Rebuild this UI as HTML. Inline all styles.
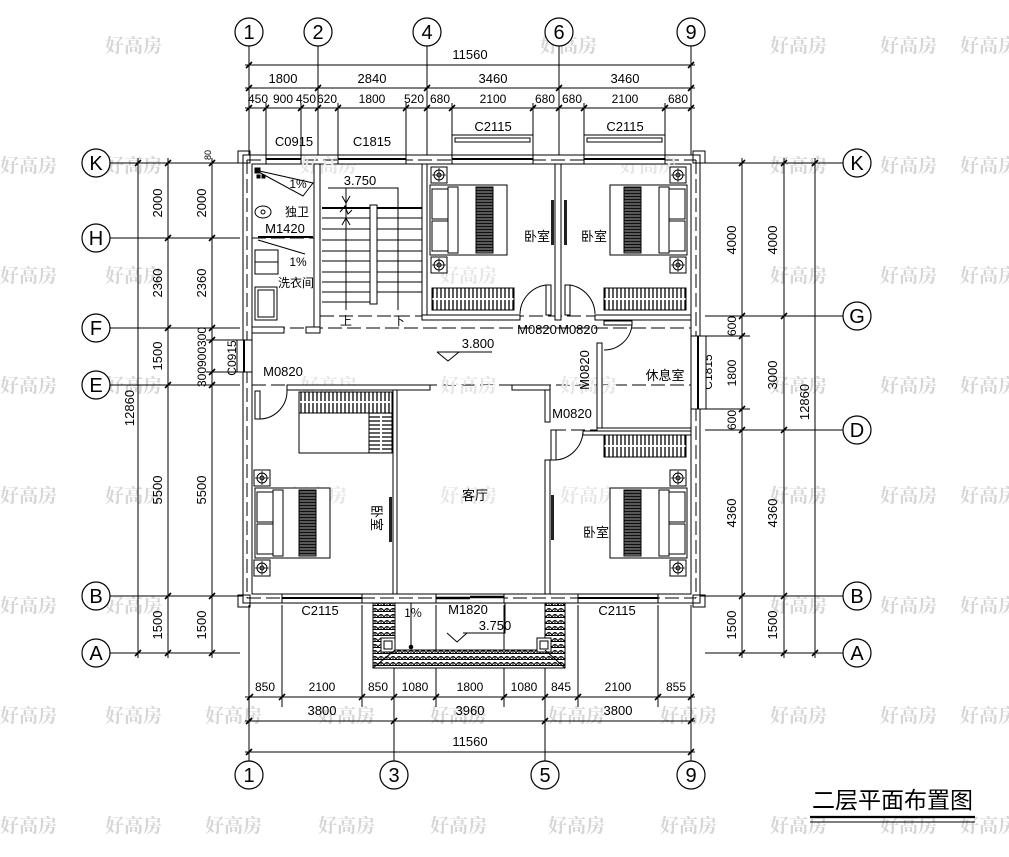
<!DOCTYPE html>
<html><head><meta charset="utf-8">
<style>
html,body{margin:0;padding:0;background:#fff;}
svg{display:block;}
text{font-family:"Liberation Sans","Noto Sans CJK SC",sans-serif;fill:#000;}
.d{font-size:13px;text-anchor:middle;}
.s{font-size:12px;text-anchor:middle;}
.c{font-family:"Liberation Serif","Noto Serif CJK SC",serif;font-size:20px;text-anchor:middle;}
.w{font-family:"Noto Serif CJK SC","Liberation Serif",serif;font-size:19px;fill:#d6d6d6;font-weight:bold;}
.wi{font-family:"Noto Serif CJK SC","Liberation Serif",serif;font-size:19px;fill:#e6e6e6;font-weight:bold;}
.cn{font-family:"Noto Sans CJK SC",sans-serif;font-size:12px;text-anchor:middle;}
</style></head><body>
<svg width="1009" height="857" viewBox="0 0 1009 857" xmlns="http://www.w3.org/2000/svg">
<defs>
<pattern id="wd" width="4" height="22" patternUnits="userSpaceOnUse">
<rect width="4" height="22" fill="#fff"/><line x1="1" y1="0" x2="1" y2="22" stroke="#000" stroke-width="1.3"/>
</pattern>
<pattern id="wdv" width="22" height="4" patternUnits="userSpaceOnUse">
<rect width="22" height="4" fill="#fff"/><line x1="0" y1="1" x2="22" y2="1" stroke="#000" stroke-width="1.3"/>
</pattern>
<pattern id="bar" width="16" height="3" patternUnits="userSpaceOnUse">
<rect width="16" height="3" fill="#111"/><line x1="0" y1="1" x2="16" y2="1" stroke="#fff" stroke-width="0.6"/>
</pattern>
<pattern id="tile" width="6" height="6" patternUnits="userSpaceOnUse">
<rect width="6" height="6" fill="#fff"/><path d="M0 5 Q3 0 6 5 M3 2.5 V6 M0 5.5H6" stroke="#000" stroke-width="1" fill="none"/>
</pattern>
<g id="ns"><rect x="-8" y="-8" width="16" height="16" fill="#fff" stroke="#000"/><circle r="5" fill="none" stroke="#000"/><circle r="2" fill="none" stroke="#000"/><path d="M-7 0H7M0 -7V7" stroke="#000" stroke-width="0.8"/></g>
</defs>
<rect width="1009" height="857" fill="#fff"/>

<!-- watermarks -->
<g class="wm">
<text class="w" x="105" y="52">好高房</text><text class="w" x="540" y="52">好高房</text><text class="w" x="770" y="52">好高房</text><text class="w" x="880" y="52">好高房</text><text class="w" x="960" y="52">好高房</text>
<text class="w" x="0" y="172">好高房</text><text class="w" x="105" y="172">好高房</text><text class="w" x="770" y="172">好高房</text><text class="w" x="880" y="172">好高房</text><text class="w" x="960" y="172">好高房</text>
<text class="w" x="0" y="282">好高房</text><text class="w" x="105" y="282">好高房</text><text class="w" x="770" y="282">好高房</text><text class="w" x="880" y="282">好高房</text><text class="w" x="960" y="282">好高房</text>
<text class="w" x="0" y="392">好高房</text><text class="w" x="105" y="392">好高房</text><text class="w" x="770" y="392">好高房</text><text class="w" x="880" y="392">好高房</text><text class="w" x="960" y="392">好高房</text>
<text class="w" x="0" y="502">好高房</text><text class="w" x="105" y="502">好高房</text><text class="w" x="770" y="502">好高房</text><text class="w" x="880" y="502">好高房</text><text class="w" x="960" y="502">好高房</text>
<text class="w" x="0" y="612">好高房</text><text class="w" x="105" y="612">好高房</text><text class="w" x="770" y="612">好高房</text><text class="w" x="880" y="612">好高房</text><text class="w" x="960" y="612">好高房</text>
<text class="w" x="0" y="722">好高房</text><text class="w" x="105" y="722">好高房</text><text class="w" x="205" y="722">好高房</text><text class="w" x="318" y="722">好高房</text><text class="w" x="430" y="722">好高房</text><text class="w" x="548" y="722">好高房</text><text class="w" x="660" y="722">好高房</text><text class="w" x="770" y="722">好高房</text><text class="w" x="880" y="722">好高房</text><text class="w" x="960" y="722">好高房</text>
<text class="w" x="0" y="832">好高房</text><text class="w" x="105" y="832">好高房</text><text class="w" x="205" y="832">好高房</text><text class="w" x="318" y="832">好高房</text><text class="w" x="430" y="832">好高房</text><text class="w" x="548" y="832">好高房</text><text class="w" x="660" y="832">好高房</text><text class="w" x="770" y="832">好高房</text><text class="w" x="880" y="832">好高房</text><text class="w" x="960" y="832">好高房</text>
</g>

<g stroke="#000" stroke-width="1" fill="none">
<!-- TOP axes -->
<line x1="249" y1="46" x2="249" y2="155"/><line x1="318" y1="46" x2="318" y2="160"/><line x1="427" y1="46" x2="427" y2="160"/><line x1="559" y1="46" x2="559" y2="160"/><line x1="691" y1="46" x2="691" y2="155"/>
<line x1="245" y1="65" x2="695" y2="65"/><line x1="245" y1="88" x2="695" y2="88"/><line x1="245" y1="108" x2="695" y2="108"/>
<path d="M266 103V155M301 103V155M338 103V155M406 103V155M452 103V140M533 103V140M584 103V140M665 103V140"/>
<!-- left axes -->
<line x1="110" y1="163" x2="243" y2="163"/><line x1="110" y1="238" x2="240" y2="238"/><line x1="110" y1="328" x2="240" y2="328"/><line x1="110" y1="385" x2="240" y2="385"/><line x1="110" y1="596" x2="243" y2="596"/><line x1="110" y1="653" x2="240" y2="653"/>
<line x1="138" y1="158" x2="138" y2="658"/><line x1="168" y1="158" x2="168" y2="658"/><line x1="212" y1="158" x2="212" y2="658"/>
<path d="M206 340H240M206 372H240"/>
<!-- right axes -->
<line x1="700" y1="163" x2="843" y2="163"/><line x1="705" y1="316" x2="843" y2="316"/><line x1="705" y1="430" x2="843" y2="430"/><line x1="700" y1="596" x2="843" y2="596"/><line x1="705" y1="653" x2="843" y2="653"/>
<line x1="742" y1="158" x2="742" y2="658"/><line x1="784" y1="158" x2="784" y2="658"/><line x1="815" y1="158" x2="815" y2="658"/>
<path d="M700 336H750M700 409H750"/>
<!-- bottom axes -->
<line x1="249" y1="605" x2="249" y2="761"/><line x1="394" y1="605" x2="394" y2="761"/><line x1="545" y1="605" x2="545" y2="761"/><line x1="691" y1="605" x2="691" y2="761"/>
<path d="M282 605V707M362 605V707M436 605V707M504 605V707M578 605V707M658 605V707"/>
<line x1="245" y1="697" x2="695" y2="697"/><line x1="245" y1="721" x2="695" y2="721"/><line x1="245" y1="752" x2="695" y2="752"/>
</g>
<!-- ticks -->
<g stroke="#000" stroke-width="1.6">
<path d="M246 68L252 62M688 68L694 62"/>
<path d="M246 91L252 85M315 91L321 85M424 91L430 85M556 91L562 85M688 91L694 85"/>
<path d="M246 111L252 105M263 111L269 105M298 111L304 105M315 111L321 105M335 111L341 105M403 111L409 105M424 111L430 105M449 111L455 105M530 111L536 105M556 111L562 105M581 111L587 105M662 111L668 105M688 111L694 105"/>
<path d="M135 166L141 160M135 656L141 650"/>
<path d="M165 166L171 160M165 241L171 235M165 331L171 325M165 388L171 382M165 599L171 593M165 656L171 650"/>
<path d="M209 166L215 160M209 241L215 235M209 331L215 325M209 343L215 337M209 375L215 369M209 388L215 382M209 599L215 593M209 656L215 650"/>
<path d="M739 166L745 160M739 319L745 313M739 339L745 333M739 412L745 406M739 433L745 427M739 599L745 593M739 656L745 650"/>
<path d="M781 166L787 160M781 319L787 313M781 433L787 427M781 599L787 593M781 656L787 650"/>
<path d="M812 166L818 160M812 656L818 650"/>
<path d="M247 700L253 694M279 700L285 694M359 700L365 694M391 700L397 694M433 700L439 694M501 700L507 694M542 700L548 694M575 700L581 694M655 700L661 694M688 700L694 694"/>
<path d="M246 724L252 718M391 724L397 718M542 724L548 718M688 724L694 718"/>
<path d="M246 755L252 749M688 755L694 749"/>
</g>

<!-- axis circles -->
<g fill="#fff" stroke="#000" stroke-width="1.2">
<circle cx="249" cy="32" r="14"/><circle cx="318" cy="32" r="14"/><circle cx="427" cy="32" r="14"/><circle cx="559" cy="32" r="14"/><circle cx="691" cy="32" r="14"/>
<circle cx="96" cy="163" r="14"/><circle cx="96" cy="238" r="14"/><circle cx="96" cy="328" r="14"/><circle cx="96" cy="385" r="14"/><circle cx="96" cy="596" r="14"/><circle cx="96" cy="653" r="14"/>
<circle cx="857" cy="163" r="14"/><circle cx="857" cy="316" r="14"/><circle cx="857" cy="430" r="14"/><circle cx="857" cy="596" r="14"/><circle cx="857" cy="653" r="14"/>
<circle cx="249" cy="775" r="14"/><circle cx="394" cy="775" r="14"/><circle cx="545" cy="775" r="14"/><circle cx="691" cy="775" r="14"/>
</g>
<g class="c">
<text x="249" y="39">1</text><text x="318" y="39">2</text><text x="427" y="39">4</text><text x="559" y="39">6</text><text x="691" y="39">9</text>
<text x="96" y="170">K</text><text x="96" y="245">H</text><text x="96" y="335">F</text><text x="96" y="392">E</text><text x="96" y="603">B</text><text x="96" y="660">A</text>
<text x="857" y="170">K</text><text x="857" y="323">G</text><text x="857" y="437">D</text><text x="857" y="603">B</text><text x="857" y="660">A</text>
<text x="249" y="782">1</text><text x="394" y="782">3</text><text x="545" y="782">5</text><text x="691" y="782">9</text>
</g>

<!-- dimension texts -->
<g class="d">
<text x="470" y="59">11560</text>
<text x="283" y="83">1800</text><text x="372" y="83">2840</text><text x="493" y="83">3460</text><text x="625" y="83">3460</text>
</g>
<g class="s">
<text x="258" y="103">450</text><text x="283" y="103">900</text><text x="306" y="103">450</text><text x="327" y="103">620</text><text x="372" y="103">1800</text><text x="414" y="103">520</text><text x="440" y="103">680</text><text x="493" y="103">2100</text><text x="545" y="103">680</text><text x="572" y="103">680</text><text x="625" y="103">2100</text><text x="678" y="103">680</text>
<text x="265" y="691">850</text><text x="322" y="691">2100</text><text x="378" y="691">850</text><text x="415" y="691">1080</text><text x="470" y="691">1800</text><text x="524" y="691">1080</text><text x="561" y="691">845</text><text x="618" y="691">2100</text><text x="676" y="691">855</text>
</g>
<g class="d">
<text x="322" y="715">3800</text><text x="470" y="715">3960</text><text x="618" y="715">3800</text>
<text x="470" y="746">11560</text>
</g>
<g class="d">
<text transform="translate(162,203) rotate(-90)">2000</text>
<text transform="translate(162,283) rotate(-90)">2360</text>
<text transform="translate(162,356) rotate(-90)">1500</text>
<text transform="translate(162,490) rotate(-90)">5500</text>
<text transform="translate(162,625) rotate(-90)">1500</text>
<text transform="translate(134,408) rotate(-90)">12860</text>
<text transform="translate(206,203) rotate(-90)">2000</text>
<text transform="translate(206,283) rotate(-90)">2360</text>
<text transform="translate(206,490) rotate(-90)">5500</text>
<text transform="translate(206,625) rotate(-90)">1500</text>
<text transform="translate(736,240) rotate(-90)">4000</text>
<text transform="translate(736,513) rotate(-90)">4360</text>
<text transform="translate(736,625) rotate(-90)">1500</text>
<text transform="translate(777,240) rotate(-90)">4000</text>
<text transform="translate(777,375) rotate(-90)">3000</text>
<text transform="translate(777,513) rotate(-90)">4360</text>
<text transform="translate(777,625) rotate(-90)">1500</text>
<text transform="translate(809,402) rotate(-90)">12860</text>
</g>
<g class="s">
<text transform="translate(206,357) rotate(-90)">300900300</text>
<text transform="translate(736,326) rotate(-90)">600</text>
<text transform="translate(736,373) rotate(-90)">1800</text>
<text transform="translate(736,420) rotate(-90)">600</text>
<text transform="translate(236,358) rotate(-90)">C0915</text>
<text transform="translate(712,372) rotate(-90)">C1815</text>
<text transform="translate(211,155) rotate(-90)" style="font-size:9px">80</text>
</g>

<!-- BUILDING -->
<g stroke="#000" stroke-width="1" fill="none">
<rect x="243" y="155" width="457" height="448" fill="#fff"/>
<rect x="252" y="164" width="439" height="430"/>
<path d="M238 151h12v12h-12zM693 151h12v12h-12zM238 595h12v12h-12zM693 595h12v12h-12z"/>
<g stroke-dasharray="14 5">
<line x1="247" y1="160" x2="696" y2="160"/><line x1="247" y1="598" x2="696" y2="598"/>
<line x1="247" y1="160" x2="247" y2="598"/><line x1="696" y1="160" x2="696" y2="598"/>
<line x1="252" y1="328" x2="691" y2="328"/><line x1="252" y1="385" x2="691" y2="385"/><line x1="252" y1="238" x2="320" y2="238"/>
<line x1="320" y1="316" x2="691" y2="316"/><line x1="552" y1="430" x2="691" y2="430"/>
</g>
</g>
<!-- interior watermarks -->
<g>
<text class="wi" x="300" y="172">好高房</text><text class="wi" x="440" y="282">好高房</text><text class="wi" x="620" y="172">好高房</text>
<text class="wi" x="300" y="392">好高房</text><text class="wi" x="440" y="392">好高房</text><text class="wi" x="560" y="392">好高房</text>
<text class="wi" x="290" y="502">好高房</text><text class="wi" x="440" y="502">好高房</text><text class="wi" x="560" y="502">好高房</text>
</g>
<!-- windows -->
<g fill="#fff" stroke="#000" stroke-width="1">
<rect x="266" y="155" width="35" height="9"/><line x1="266" y1="159" x2="301" y2="159" stroke-width="2"/>
<rect x="338" y="155" width="68" height="9"/><line x1="338" y1="159" x2="406" y2="159" stroke-width="2"/>
<rect x="452" y="135" width="81" height="29"/><rect x="455" y="138" width="75" height="4"/><line x1="452" y1="155" x2="533" y2="155"/><line x1="452" y1="159" x2="533" y2="159" stroke-width="2"/>
<rect x="584" y="135" width="81" height="29"/><rect x="587" y="138" width="75" height="4"/><line x1="584" y1="155" x2="665" y2="155"/><line x1="584" y1="159" x2="665" y2="159" stroke-width="2"/>
<rect x="237" y="340" width="15" height="32"/><line x1="244" y1="340" x2="244" y2="372" stroke-width="2"/>
<rect x="691" y="336" width="15" height="73"/><line x1="698" y1="336" x2="698" y2="409" stroke-width="2"/>
<rect x="282" y="594" width="80" height="9"/><line x1="282" y1="598" x2="362" y2="598" stroke-width="2"/>
<rect x="578" y="594" width="80" height="9"/><line x1="578" y1="598" x2="658" y2="598" stroke-width="2"/>
<rect x="436" y="594" width="68" height="9"/><line x1="436" y1="598" x2="470" y2="598" stroke-width="2.5"/><line x1="470" y1="597" x2="504" y2="597" stroke-width="2.5"/>
</g>

<!-- interior walls -->
<g fill="#fff" stroke="#000" stroke-width="1">
<rect x="314" y="164" width="6" height="169"/>
<rect x="252" y="327" width="32" height="6"/><rect x="306" y="327" width="14" height="6"/>
<rect x="422" y="164" width="5" height="156"/>
<rect x="422" y="315" width="98" height="5"/>
<rect x="555" y="164" width="6" height="156"/>
<rect x="595" y="315" width="96" height="5"/>
<rect x="597" y="343" width="5" height="89"/>
<rect x="597" y="428" width="94" height="4"/>
<rect x="545" y="385" width="5" height="37"/><rect x="545" y="460" width="5" height="134"/>
<rect x="583" y="431" width="108" height="4"/>
<rect x="287" y="385" width="143" height="5"/>
<rect x="512" y="385" width="38" height="5"/>
<rect x="393" y="390" width="4" height="204"/>
</g>

<!-- doors -->
<g stroke="#000" fill="none" stroke-width="1">
<line x1="258" y1="237" x2="313" y2="237" stroke-width="2"/>
<rect x="546" y="285" width="5" height="30" fill="#fff"/><path d="M546 285 A30 30 0 0 0 520 314"/>
<rect x="565" y="285" width="5" height="30" fill="#fff"/><path d="M570 285 A30 30 0 0 1 595 314"/>
<rect x="604" y="321" width="28" height="4" fill="#fff"/><path d="M632 325 A28 28 0 0 1 604 350"/>
<rect x="255" y="391" width="5" height="28" fill="#fff"/><path d="M260 419 A28 28 0 0 0 287 390"/>
<rect x="551" y="430" width="5" height="30" fill="#fff"/><path d="M556 460 A30 30 0 0 0 583 432"/>
</g>
<g fill="#222">
<rect x="551" y="200" width="3" height="45"/><rect x="564" y="200" width="3" height="45"/>
<rect x="389" y="497" width="3" height="45"/><rect x="551" y="495" width="3" height="45"/>
</g>

<!-- stair -->
<g stroke="#000" fill="none" stroke-width="1">
<line x1="322" y1="208" x2="422" y2="208" stroke-width="2"/>
<path d="M322 218H422M322 229H422M322 240H422M322 251H422M322 261H422M322 272H422M322 282H422M322 292H422M322 302H370"/>
<rect x="370" y="205" width="7" height="99" fill="#fff"/>
<path d="M328 188H398V310M346 188V310M342 196L346 203L350 196M342 225L346 218L350 225M340 212L345 206L348 214L352 210"/>
</g>
<text class="cn" x="346" y="325">上</text><text class="cn" x="399" y="325">下</text>
<text class="d" x="360" y="185">3.750</text>

<!-- bath fixtures -->
<g stroke="#000" fill="none">
<path d="M255 170L313 183L303 196Z" fill="#fff"/>
<rect x="255" y="168" width="5" height="5" fill="#000"/><rect x="257" y="175" width="3" height="3" fill="#000"/><rect x="262" y="175" width="3" height="3" fill="#000"/>
<ellipse cx="263" cy="212" rx="8" ry="6" fill="#fff"/><circle cx="263" cy="212" r="2"/>
<path d="M258 240L305 254"/>
<rect x="255" y="250" width="23" height="24" fill="#fff"/><line x1="255" y1="262" x2="278" y2="262"/>
<rect x="255" y="287" width="22" height="33" fill="#fff"/><rect x="258" y="290" width="16" height="27"/>
</g>
<g class="cn"><text x="298" y="188">1%</text><text x="297" y="216">独卫</text><text x="298" y="266">1%</text><text x="296" y="287">洗衣间</text></g>
<text class="d" x="285" y="233">M1420</text>

<!-- beds -->
<g stroke="#000" fill="#fff">
<g transform="translate(430,185)">
<rect x="0" y="0" width="77" height="70"/><rect x="2" y="4" width="18" height="30"/><rect x="2" y="36" width="18" height="30"/><rect x="18" y="2" width="10" height="66"/>
<rect x="46" y="2" width="17" height="66" fill="url(#bar)"/>
</g>
<g transform="translate(610,185)">
<rect x="0" y="0" width="77" height="70"/><rect x="57" y="4" width="18" height="30"/><rect x="57" y="36" width="18" height="30"/><rect x="49" y="2" width="10" height="66"/>
<rect x="14" y="2" width="17" height="66" fill="url(#bar)"/>
</g>
<g transform="translate(255,488)">
<rect x="0" y="0" width="75" height="70"/><rect x="2" y="4" width="18" height="30"/><rect x="2" y="36" width="18" height="30"/><rect x="18" y="2" width="10" height="66"/>
<rect x="44" y="2" width="17" height="66" fill="url(#bar)"/>
</g>
<g transform="translate(610,488)">
<rect x="0" y="0" width="77" height="70"/><rect x="57" y="4" width="18" height="30"/><rect x="57" y="36" width="18" height="30"/><rect x="49" y="2" width="10" height="66"/>
<rect x="14" y="2" width="17" height="66" fill="url(#bar)"/>
</g>
</g>
<use href="#ns" x="439" y="175"/><use href="#ns" x="439" y="265"/>
<use href="#ns" x="678" y="175"/><use href="#ns" x="678" y="265"/>
<use href="#ns" x="262" y="478"/><use href="#ns" x="262" y="568"/>
<use href="#ns" x="678" y="478"/><use href="#ns" x="678" y="568"/>

<!-- wardrobes -->
<g stroke="#000">
<rect x="432" y="288" width="82" height="22" fill="url(#wd)"/><line x1="432" y1="299" x2="514" y2="299" stroke="#fff" stroke-width="2"/><rect x="432" y="288" width="82" height="22" fill="none"/>
<rect x="604" y="288" width="82" height="22" fill="url(#wd)"/><line x1="604" y1="299" x2="686" y2="299" stroke="#fff" stroke-width="2"/><rect x="604" y="288" width="82" height="22" fill="none"/>
<rect x="299" y="392" width="93" height="21" fill="url(#wd)"/><line x1="299" y1="402" x2="392" y2="402" stroke="#fff" stroke-width="2"/><rect x="299" y="392" width="93" height="21" fill="none"/>
<rect x="299" y="413" width="70" height="40" fill="#fff"/>
<rect x="369" y="413" width="23" height="40" fill="url(#wdv)"/><line x1="381" y1="413" x2="381" y2="453" stroke="#fff" stroke-width="2"/><rect x="369" y="413" width="23" height="40" fill="none"/>
<rect x="604" y="435" width="82" height="22" fill="url(#wd)"/><line x1="604" y1="446" x2="686" y2="446" stroke="#fff" stroke-width="2"/><rect x="604" y="435" width="82" height="22" fill="none"/>
</g>

<!-- room labels -->
<g class="cn" style="font-size:13px">
<text x="537" y="241">卧室</text><text x="594" y="241">卧室</text>
<text x="665" y="380">休息室</text><text x="475" y="500">客厅</text><text x="596" y="537">卧室</text>
<text transform="translate(372,518) rotate(90)">卧室</text>
</g>
<g class="d">
<text x="537" y="334">M0820</text><text x="578" y="334">M0820</text>
<text x="283" y="376">M0820</text><text x="572" y="418">M0820</text>
<text transform="translate(589,370) rotate(-90)">M0820</text>
<text x="294" y="146">C0915</text><text x="372" y="146">C1815</text>
<text x="493" y="131">C2115</text><text x="625" y="131">C2115</text>
<text x="320" y="615">C2115</text><text x="617" y="615">C2115</text>
<text x="468" y="614">M1820</text>
<text x="478" y="348">3.800</text>
<text x="495" y="630">3.750</text>
</g>
<path d="M437 352H492M437 352L448 361L459 352" stroke="#000" fill="none"/>

<!-- porch -->
<g stroke="#000" fill="none">
<path d="M373 603V668H565V603H545V650H395V603Z" fill="url(#tile)"/>
<path d="M373 603V668H565V603M395 603V650H545V603"/>
<rect x="381" y="638" width="14" height="14" fill="#fff"/><rect x="384" y="641" width="8" height="8"/>
<rect x="537" y="638" width="14" height="14" fill="#fff"/><rect x="540" y="641" width="8" height="8"/>
<path d="M373 668L395 650M565 668L545 650"/>
<path d="M411 603V645M463 633H505V603M447 633L457 642L467 633"/>
<circle cx="411" cy="647" r="1.8" fill="#000"/>
</g>
<text class="cn" x="413" y="617">1%</text>

<!-- title -->
<text x="812" y="808" style="font-family:'Noto Sans CJK SC',sans-serif;font-size:23px;">二层平面布置图</text>
<line x1="810" y1="817" x2="975" y2="817" stroke="#000" stroke-width="2.2"/>
<line x1="810" y1="822" x2="975" y2="822" stroke="#000" stroke-width="1"/>
</svg>
</body></html>
